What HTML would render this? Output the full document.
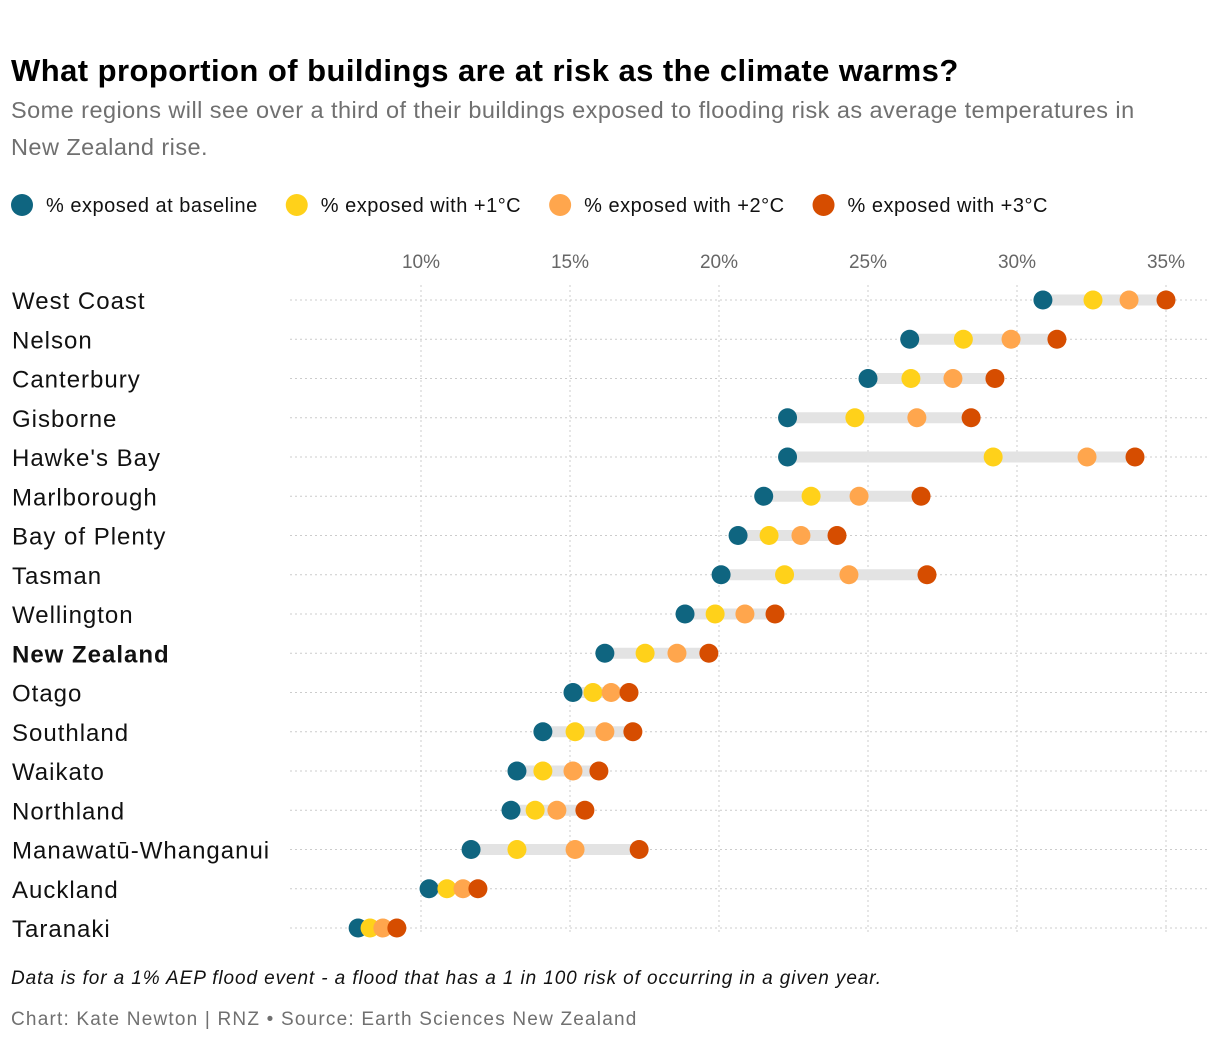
<!DOCTYPE html>
<html><head><meta charset="utf-8"><style>
body{margin:0;background:#fff;font-family:"Liberation Sans",sans-serif;}
#wrap{position:relative;width:1220px;height:1048px;overflow:hidden}
.t{position:absolute;white-space:nowrap}
</style></head><body><div id="wrap">
<div class="t" style="left:11px;top:53px;font-size:31px;font-weight:bold;color:#000;letter-spacing:0.45px">What proportion of buildings are at risk as the climate warms?</div>
<div class="t" style="left:11px;top:92px;font-size:23.5px;line-height:37px;color:#707070;white-space:normal;width:1150px;letter-spacing:0.45px">Some regions will see over a third of their buildings exposed to flooding risk as average temperatures in New Zealand rise.</div>
<svg id="svg" width="1220" height="1048" style="position:absolute;left:0;top:0"></svg>
<div class="t" style="left:11px;top:968px;font-size:19px;font-style:italic;color:#111;letter-spacing:0.9px">Data is for a 1% AEP flood event - a flood that has a 1 in 100 risk of occurring in a given year.</div>
<div class="t" style="left:11px;top:1009px;font-size:19px;color:#707070;letter-spacing:1.2px">Chart: Kate Newton | RNZ • Source: Earth Sciences New Zealand</div>
</div>
<script>
const regions=["West Coast","Nelson","Canterbury","Gisborne","Hawke's Bay","Marlborough","Bay of Plenty","Tasman","Wellington","New Zealand","Otago","Southland","Waikato","Northland","Manawatū-Whanganui","Auckland","Taranaki"];
const baseline=[30.87,26.4,25.0,22.3,22.3,21.5,20.64,20.07,18.86,16.17,15.1,14.09,13.22,13.02,11.68,10.27,7.89];
const plus1=[32.55,28.2,26.44,24.56,29.2,23.09,21.68,22.2,19.87,17.52,15.77,15.17,14.09,13.83,13.22,10.87,8.29];
const plus2=[33.76,29.8,27.85,26.64,32.35,24.7,22.75,24.36,20.87,18.59,16.38,16.17,15.1,14.56,15.17,11.41,8.72];
const plus3=[35.0,31.34,29.26,28.46,33.96,26.78,23.96,26.98,21.88,19.66,16.98,17.11,15.97,15.5,17.32,11.91,9.19];
const ticks=[10,15,20,25,30,35];
const seriesNames=["% exposed at baseline","% exposed with +1°C","% exposed with +2°C","% exposed with +3°C"];
const colors=["#0f6580","#ffd11a","#ffa64d","#d64d00"];
const x=v=>421+(v-10)*29.8;
const y=i=>300+i*39.25;
const svg=document.getElementById('svg');const NS="http://www.w3.org/2000/svg";
function mk(t,a,p){const e=document.createElementNS(NS,t);for(const k in a)e.setAttribute(k,a[k]);(p||svg).appendChild(e);return e;}
let lx=11;
seriesNames.forEach((n,k)=>{
 const c=mk('circle',{cx:lx+11,cy:205,r:11,fill:colors[k]});
 
 
 const t=mk('text',{x:lx+35,y:212,'font-size':20,fill:'#111','letter-spacing':'0.5'});t.textContent=n;
 
 
 lx+=35+t.getComputedTextLength()+28;
});
ticks.forEach(v=>{
 const l=mk('line',{x1:x(v),x2:x(v),y1:285,y2:935,stroke:'#ccc','stroke-dasharray':'2,3'});
 
 
 const t=mk('text',{x:x(v),y:268,'font-size':19,fill:'#666','text-anchor':'middle'});t.textContent=v+'%';
 
 
});
regions.forEach((r,i)=>{
 const g=mk('line',{x1:290,x2:1208,y1:y(i),y2:y(i),stroke:'#ccc','stroke-dasharray':'2,3'});
 
 
 const t=mk('text',{x:12,y:y(i)+9,'font-size':24,fill:'#111','letter-spacing':'1','font-weight':r==='New Zealand'?'bold':'normal'});t.textContent=r;
 
 
 const vals=[baseline[i],plus1[i],plus2[i],plus3[i]];
 const b=mk('line',{x1:x(Math.min(...vals)),x2:x(Math.max(...vals)),y1:y(i),y2:y(i),stroke:'#e3e3e3','stroke-width':11});
 
 
 vals.forEach((v,k)=>{
  const c=mk('circle',{cx:x(v),cy:y(i),r:9.5,fill:colors[k]});
  
  
 });
});
</script></body></html>
